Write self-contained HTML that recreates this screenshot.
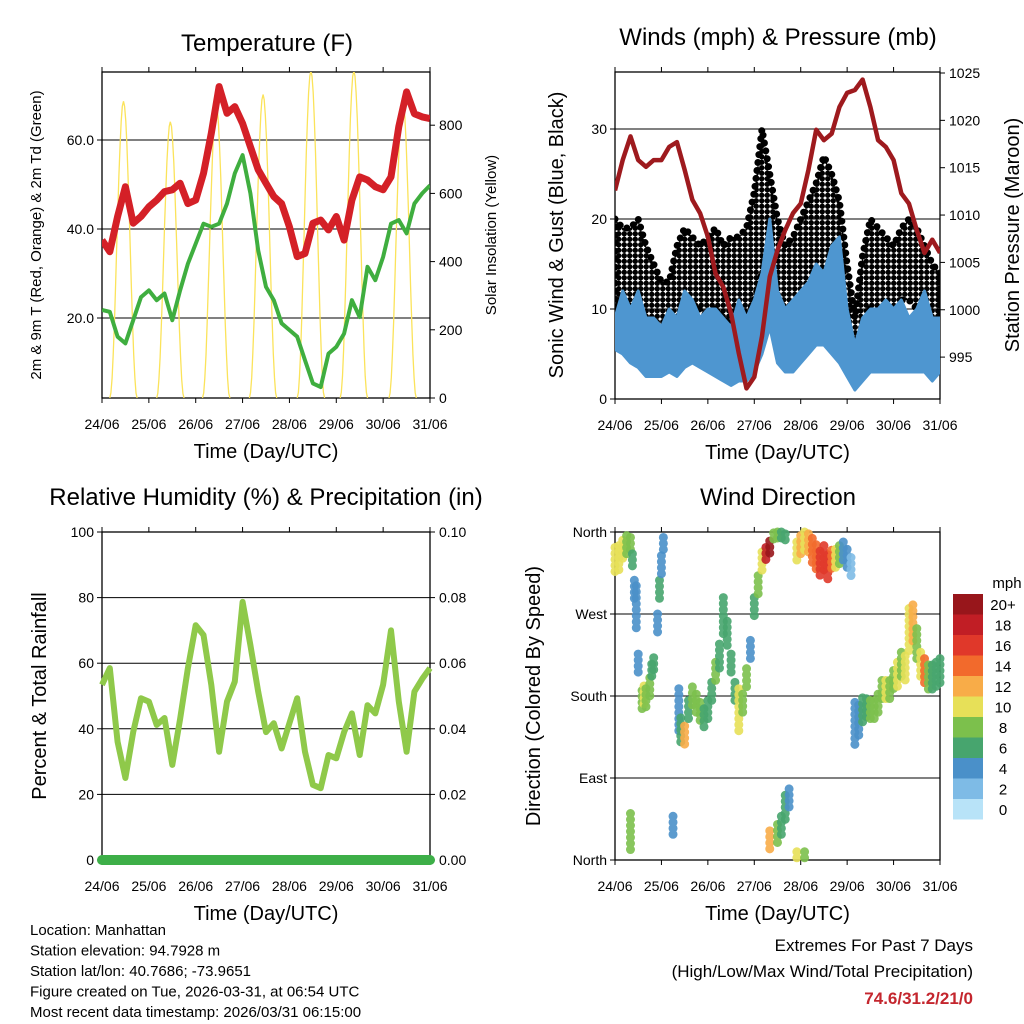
<!DOCTYPE html>
<html><head><meta charset="utf-8"><style>
body{margin:0;background:#fff}
svg{display:block;font-family:"Liberation Sans",Arial,sans-serif}
</style></head><body>
<svg id="c" width="1024" height="1024" viewBox="0 0 1024 1024">
<defs>
<pattern id="dots" width="5.5" height="5.5" patternUnits="userSpaceOnUse"><circle cx="2.75" cy="2.75" r="2.7" fill="#000"/></pattern>
</defs>
</svg>
<script>
const hours=[0,4,8,12,16,20,24,28,32,36,40,44,48,52,56,60,64,68,72,76,80,84,88,92,96,100,104,108,112,116,120,124,128,132,136,140,144,148,152,156,160,164,168];
const tempRed=[37.5,34.9,42.8,49.5,41.3,42.8,45,46.5,48.4,48.8,50.3,45.7,46.5,52.5,61.5,72,66,67.5,63.7,58.5,53.3,50.3,47.3,45.7,40.5,33.8,34.5,41.3,42,39.8,42.8,37.5,46.5,51.7,51,49.5,48.8,51.7,63,70.8,65.9,65.2,64.8];
const dewGreen=[21.8,21.4,15.8,14.3,19.5,24.7,26.2,24,25.5,19.5,26.2,32.2,36.7,41.2,40.5,41.2,45.7,52.5,56.6,48,35.2,27,24,18.8,17.3,15.8,10.5,5.3,4.5,12,13.5,16.5,24,20.2,31.5,28.5,33.7,41.2,42,39,45.7,48,49.8];
const solarPeakHour=[11,35,58.5,82.5,107,129,154];
const solarPeakValue=[870,810,860,890,960,960,880];
const solarHalfWidth=[7,7,7,7,7,7,7];
const pressure=[1012.6,1015.8,1018.3,1015.8,1015.1,1015.8,1015.8,1017.2,1017.7,1014.8,1011.6,1010.2,1007.7,1003.8,1002.4,999.6,995.4,991.7,992.9,997.2,1003.5,1006.3,1008.4,1010.2,1011.2,1014.8,1019,1017.9,1018.6,1021.4,1022.9,1023.2,1024.3,1021.4,1017.9,1017.2,1015.8,1012.3,1011.2,1008.4,1006,1007.4,1006];
const windHi=[9,12,10,12,9,9,8,10,9,12,11,9,10,10,9,8,11,9,11,14,20,12,10,11,12,13,15,14,17,18,10,6,9,10,10,11,10,11,9,10,12,9,9];
const windLo=[5.5,5,4,3.5,2.5,2.5,2.5,3,2.5,3.5,4,3.5,3,2.5,2,1.5,2,2,3,5,8,4,3,3,4,5,6,6,5,4,2.5,1,2,3,3,3,3,3,3,3,3,2,3];
const gustHi=[20,19,19,20,17,15,13,13,17,19,18,17,18,19,17,18,18,19,23,30,25,20,17,18,20,22,24,27,25,22,15,9,16,20,19,18,17,19,20,19,17,15,14];
const gustLo=[10,11,10,9,9,8,6,5,9,10,10,10,9,10,9,8,8,9,11,14,13,11,9,10,10,11,12,13,12,11,7,3,7,10,10,10,9,11,11,10,9,8,8];
const rh=[53.4,58.5,36,25,39,49.3,48.3,41.2,43.3,29,43,58.5,71.6,68.6,53.4,33,48.3,54.4,78.7,65.5,51.3,39,41.7,34,41.7,49.3,33,22.9,21.9,32,31,39,44.7,32,47.2,44.7,53.4,70,48.3,33,51.3,55.2,58.5];
const precip=[0,0,0,0,0,0,0,0,0,0,0,0,0,0,0,0,0,0,0,0,0,0,0,0,0,0,0,0,0,0,0,0,0,0,0,0,0,0,0,0,0,0,0];
const dirHours=[0,2,4,6,8,9,10,11,12,14,15,16,18,19,20,22,23,24,25,33,34,36,38,40,42,44,46,48,50,52,54,56,58,60,62,64,66,68,70,72,74,76,78,80,82,84,86,88,94,96,98,100,102,104,106,108,110,112,114,116,118,120,122,124,126,128,130,132,134,136,138,140,142,144,146,148,150,152,154,156,158,160,162,164,166,168,8,30,80,84,86,88,90,94,98];
const dirValues=[328,331,339,346,346,328,295,276,214,174,181,178,188,207,214,258,295,324,346,163,141,137,163,178,170,163,156,165,185,207,222,266,247,214,185,163,170,200,229,276,302,328,335,342,353,358,358,353,339,346,350,346,339,331,324,331,320,328,331,335,339,331,320,148,152,163,165,163,163,170,185,185,185,196,203,214,210,251,258,236,214,207,200,200,203,207,31,38,20,27,38,57,66,5,5];
const dirSpread=[15,14,12,10,8,8,12,25,12,12,10,10,12,8,8,12,12,10,8,25,15,10,12,12,12,10,10,10,10,10,15,22,15,12,10,25,12,10,12,12,10,10,8,8,6,5,5,5,10,10,10,12,14,15,15,14,15,12,10,10,10,10,12,25,18,15,12,12,12,12,12,12,12,12,14,14,14,25,22,18,14,14,14,14,14,14,20,10,12,12,10,14,12,4,4];
const dirSpeed=[9,10,9,8,7,5,4,4,3,7,9,7,7,6,5,4,5,4,3,3,5,11,5,7,8,7,6,6,6,7,6,6,5,5,6,9,7,7,4,6,8,10,18,20,8,7,6,6,10,11,10,12,14,13,15,16,16,14,10,8,4,3,2,3,4,6,6,7,8,8,8,9,8,7,9,8,10,10,11,8,9,14,8,6,5,5,8,3,12,8,6,5,4,10,8];
const speedLevels=[0,2,4,6,8,10,12,14,16,18,20];
const speedLabels=["0","2","4","6","8","10","12","14","16","18","20+"];
const speedColors=["#b8e3f8","#7ebbe6","#4a90c9","#47a56e","#7cc04c","#e7e058","#f8ac48","#f26a2c","#e0382a","#c11e25","#98161b"];
const dayLabels=["24/06","25/06","26/06","27/06","28/06","29/06","30/06","31/06"];
const tempTicks=[20,40,60];
const solarTicks=[0,200,400,600,800];
const windTicks=[0,10,20,30];
const presTicks=[995,1000,1005,1010,1015,1020,1025];
const rhTicks=[0,20,40,60,80,100];
const rainTicks=["0.00","0.02","0.04","0.06","0.08","0.10"];
const dirTickVals=[0,90,180,270,360];
const dirTickLabels=["North","East","South","West","North"];

const svg=document.getElementById('c');
const NS='http://www.w3.org/2000/svg';
function mk(tag,attrs,parent){const e=document.createElementNS(NS,tag);for(const k in attrs)e.setAttribute(k,attrs[k]);(parent||svg).appendChild(e);return e;}
function txt(s,x,y,size,anchor,parent,extra){const e=mk('text',Object.assign({x:x,y:y,'font-size':size,'text-anchor':anchor||'middle',fill:'#000'},extra||{}),parent);e.textContent=s;return e;}

function xS(box,h){return box.x0+h/168*(box.x1-box.x0);}
const P1={x0:102,x1:430,y0:72,y1:398};
const P2={x0:615,x1:940,y0:72,y1:399};
const P3={x0:102,x1:430,y0:532,y1:860};
const P4={x0:615,x1:940,y0:532,y1:860};
const yTemp=v=>407-4.45*v;
const ySolar=v=>398-0.341*v;
const yWind=v=>399-9*v;
const yPres=v=>73+(1025-v)*9.47;
const yRH=v=>860-3.28*v;
const yRain=v=>860-3280*v;
const yDir=v=>860-v*328/360;

function frame(box,name){
  const g=mk('g',{});
  
  
  for(let d=0;d<=7;d++){
    const x=box.x0+d*(box.x1-box.x0)/7;
    mk('line',{x1:x,x2:x,y1:box.y1,y2:box.y1+5,stroke:'#000','stroke-width':1},g);
    mk('line',{x1:x,x2:x,y1:box.y0,y2:box.y0-5,stroke:'#000','stroke-width':1},g);
    const t=txt(dayLabels[d],x,box.y1+31,14,'middle',g);
    
    
  }
  mk('rect',{x:box.x0,y:box.y0,width:box.x1-box.x0,height:box.y1-box.y0,fill:'none',stroke:'#000','stroke-width':1.3},g);
  const xt=txt('Time (Day/UTC)',(box.x0+box.x1)/2,box.y1+60,20,'middle',g);
  
  
  return g;
}
function gridLeft(box,vals,labels,yf,g){
  vals.forEach((v,i)=>{const y=yf(v);
    if(y>box.y0+1&&y<box.y1-1) mk('line',{x1:box.x0,x2:box.x1,y1:y,y2:y,stroke:'#000','stroke-width':1},g);
    mk('line',{x1:box.x0-5,x2:box.x0,y1:y,y2:y,stroke:'#000'},g);
    const t=txt(labels[i],box.x0-8,y+5,14,'end',g);
    
    });
}
function ticksRight(box,vals,labels,yf,g){
  vals.forEach((v,i)=>{const y=yf(v);
    mk('line',{x1:box.x1,x2:box.x1+5,y1:y,y2:y,stroke:'#000'},g);
    const t=txt(labels[i],box.x1+9,y+5,14,'start',g);
    
    });
}
function poly(arrX,arrY){return arrX.map((x,i)=>x.toFixed(1)+','+arrY[i].toFixed(1)).join(' ');}

/* ---------- Panel 1 ---------- */
let g1=frame(P1,'temperature');
let clip1=mk('clipPath',{id:'cl1'});mk('rect',{x:P1.x0,y:P1.y0,width:P1.x1-P1.x0,height:P1.y1-P1.y0},clip1);
gridLeft(P1,tempTicks,tempTicks.map(v=>v.toFixed(1)),yTemp,g1);
ticksRight(P1,solarTicks,solarTicks.map(String),ySolar,g1);
let s1=mk('g',{'clip-path':'url(#cl1)'});


solarPeakHour.forEach((ph,i)=>{
  let pts=[];const hw=solarHalfWidth[i];
  for(let k=0;k<=24;k++){const h=ph-hw+2*hw*k/24;const f=Math.cos((h-ph)/hw*Math.PI/2);pts.push(xS(P1,h).toFixed(1)+','+ySolar(solarPeakValue[i]*f*f).toFixed(1));}
  const p=mk('polyline',{points:pts.join(' '),fill:'none',stroke:'#fbe35a','stroke-width':1.3},s1);
  
  
});
let gl=mk('polyline',{points:poly(hours.map(h=>xS(P1,h)),dewGreen.map(yTemp)),fill:'none',stroke:'#3fae3f','stroke-width':4,'stroke-linejoin':'round'},s1);


let rl=mk('polyline',{points:poly(hours.map(h=>xS(P1,h)),tempRed.map(yTemp)),fill:'none',stroke:'#d42027','stroke-width':7,'stroke-linejoin':'round'},s1);


let t1=txt('Temperature (F)',267,51,24,'middle');


let yl1=txt('2m & 9m T (Red, Orange) & 2m Td (Green)',0,0,15,'middle',null,{transform:'translate(41,235) rotate(-90)'});


let yr1=txt('Solar Insolation (Yellow)',0,0,15,'middle',null,{transform:'translate(496,235) rotate(-90)'});



/* ---------- Panel 2 ---------- */
let g2=frame(P2,'winds');
let clip2=mk('clipPath',{id:'cl2'});mk('rect',{x:P2.x0,y:P2.y0,width:P2.x1-P2.x0,height:P2.y1-P2.y0},clip2);
gridLeft(P2,windTicks,windTicks.map(String),yWind,g2);
ticksRight(P2,presTicks,presTicks.map(String),yPres,g2);
let s2=mk('g',{'clip-path':'url(#cl2)'});
const hx2=hours.map(h=>xS(P2,h));
let gb=mk('polygon',{points:poly(hx2.concat(hx2.slice().reverse()),gustHi.map(yWind).concat(gustLo.map(yWind).reverse())),fill:'url(#dots)',stroke:'#000','stroke-width':7,'stroke-linejoin':'round','stroke-dasharray':'0 8','stroke-linecap':'round'},s2);


let wb=mk('polygon',{points:poly(hx2.concat(hx2.slice().reverse()),windHi.map(yWind).concat(windLo.map(yWind).reverse())),fill:'#4e96d0',stroke:'#4e96d0','stroke-width':3,'stroke-linejoin':'round'},s2);


let pl=mk('polyline',{points:poly(hx2,pressure.map(yPres)),fill:'none',stroke:'#9e1a1e','stroke-width':4.5,'stroke-linejoin':'round'},s2);


let t2=txt('Winds (mph) & Pressure (mb)',778,45,24,'middle');


let yl2=txt('Sonic Wind & Gust (Blue, Black)',0,0,20,'middle',null,{transform:'translate(563,235) rotate(-90)'});


let yr2=txt('Station Pressure (Maroon)',0,0,20,'middle',null,{transform:'translate(1019,235) rotate(-90)'});



/* ---------- Panel 3 ---------- */
let g3=frame(P3,'humidity');
gridLeft(P3,rhTicks,rhTicks.map(String),yRH,g3);
ticksRight(P3,rhTicks.map(v=>v/1000),rainTicks,yRain,g3);
let s3=mk('g',{});
let rp=mk('polyline',{points:poly(hours.map(h=>xS(P3,h)),precip.map(yRain)),fill:'none',stroke:'#3daf48','stroke-width':10,'stroke-linecap':'round'},s3);


let rhl=mk('polyline',{points:poly(hours.map(h=>xS(P3,h)),rh.map(yRH)),fill:'none',stroke:'#8fc94a','stroke-width':6,'stroke-linejoin':'round'},s3);


let t3=txt('Relative Humidity (%) & Precipitation (in)',266,505,24,'middle');


let yl3=txt('Percent & Total Rainfall',0,0,20,'middle',null,{transform:'translate(46,696) rotate(-90)'});



/* ---------- Panel 4 ---------- */
let g4=frame(P4,'wind-direction');
gridLeft(P4,dirTickVals,dirTickLabels,yDir,g4);
function speedColor(s){let i=Math.min(10,Math.max(0,Math.round(s/2)));return speedColors[i];}
let s4=mk('g',{});
dirHours.forEach((h,i)=>{
  const x=xS(P4,h);const yc=yDir(dirValues[i]);const sp=dirSpread[i]*328/360;
  const y0=Math.max(P4.y0,yc-sp),y1=Math.min(P4.y1,yc+sp);
  const c=mk('line',{x1:x,x2:x,y1:y0,y2:y1,stroke:speedColor(dirSpeed[i]),'stroke-width':9,'stroke-linecap':'round','stroke-dasharray':'0 6','stroke-opacity':0.9},s4);
  
  
});
let t4=txt('Wind Direction',778,505,24,'middle');


let yl4=txt('Direction (Colored By Speed)',0,0,20,'middle',null,{transform:'translate(540,696) rotate(-90)'});


let cb=mk('g',{});


txt('mph',1007,588,15,'middle',cb);
speedLevels.forEach((v,i)=>{
  const k=10-i;const y=594+k*20.5;
  const r=mk('rect',{x:953,y:y,width:30,height:20.5,fill:speedColors[i]},cb);
  
  
  txt(speedLabels[i],1003,y+16,15,'middle',cb);
});

/* ---------- Footer ---------- */
const info=["Location: Manhattan","Station elevation: 94.7928 m","Station lat/lon: 40.7686; -73.9651","Figure created on Tue, 2026-03-31, at 06:54 UTC","Most recent data timestamp: 2026/03/31 06:15:00"];
let fi=mk('g',{});


info.forEach((s,i)=>txt(s,30,935+i*20.5,15,'start',fi));
let ex=mk('g',{});


txt('Extremes For Past 7 Days',973,951,17,'end',ex);
txt('(High/Low/Max Wind/Total Precipitation)',973,977,17,'end',ex);
txt('74.6/31.2/21/0',973,1004,17,'end',ex,{fill:'#c4262e','font-weight':'bold'});
</script>
</body></html>
